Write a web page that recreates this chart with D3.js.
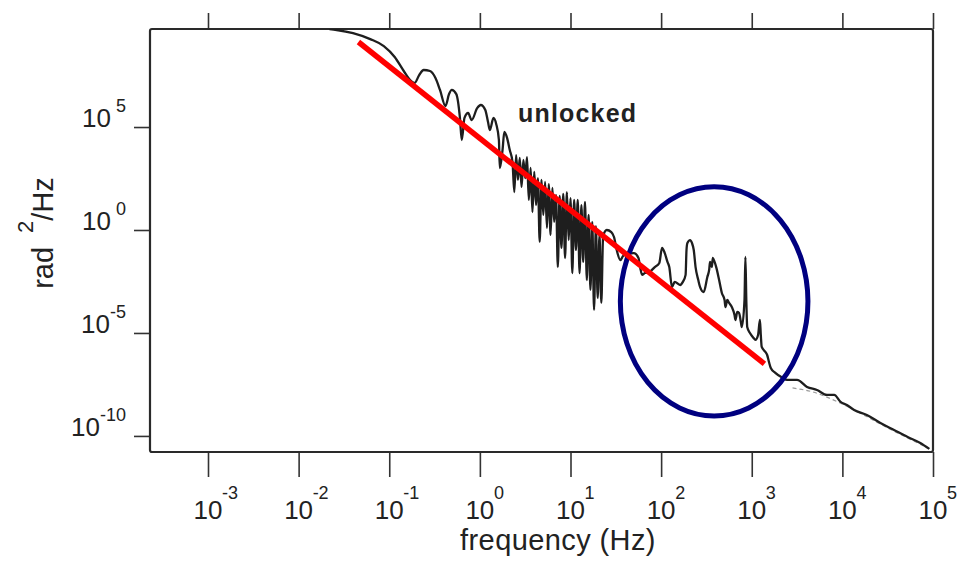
<!DOCTYPE html>
<html><head><meta charset="utf-8">
<script src="https://cdn.jsdelivr.net/npm/d3@7"></script>
<style>
body{margin:0;background:#fff}
svg{display:block}
text{font-family:"Liberation Sans",Arial,Helvetica,sans-serif;fill:#222}
</style>
</head><body>
<svg id="chart" width="959" height="564"></svg>
<script>
// ---- data (log10 values) ----
const xTickExps = [-3, -2, -1, 0, 1, 2, 3, 4, 5];
const yTickExps = [5, 0, -5, -10];

// low-frequency part of the unlocked phase-noise spectrum
const lowLogF = [-1.66,-1.58,-1.40,-1.21,-1.06,-0.94,-0.84,-0.77,-0.72,-0.67,-0.62,-0.55,-0.49,-0.44,-0.38,-0.34,-0.31,-0.26,-0.22,-0.20,-0.17,-0.13,-0.09,-0.03,0.01,0.06,0.09,0.11,0.15,0.18,0.21,0.22,0.25,0.27,0.30,0.33,0.36];
const lowLogP = [9.75,9.71,9.56,9.27,8.93,8.40,7.72,7.28,7.14,7.52,7.77,7.72,7.38,6.80,6.02,6.60,6.80,6.60,5.44,4.37,5.44,5.68,5.34,5.92,6.07,5.83,5.24,4.85,5.44,5.15,4.37,3.01,3.88,4.76,4.47,3.88,3.30];

// dense, noisy middle part
const midLogF = [0.38,0.40,0.42,0.44,0.46,0.48,0.50,0.52,0.54,0.56,0.58,0.60,0.62,0.64,0.66,0.68,0.70,0.72,0.74,0.76,0.78,0.80,0.82,0.84,0.86,0.88,0.90,0.92,0.94,0.96,0.98,1.00,1.02,1.04,1.06,1.08,1.10,1.12,1.14,1.16,1.18,1.20,1.22,1.24,1.26,1.28,1.30,1.32,1.34,1.36];
const midLogP = [1.84,3.64,2.43,3.50,2.09,3.40,2.52,3.54,1.46,3.01,0.87,2.82,1.21,2.52,-0.58,2.43,0.73,2.33,0.10,2.23,-0.24,2.04,0.39,1.70,-1.80,1.65,-0.87,1.75,-1.36,1.84,-0.49,1.55,-2.09,1.46,-0.97,1.46,-2.09,1.21,-1.55,1.36,-2.43,0.73,-2.91,0.39,-3.88,0.19,-3.30,-0.24,-3.54,-0.29];

// high-frequency part (bumps, spikes and the tail)
const highLogF = [1.40,1.45,1.48,1.51,1.55,1.58,1.62,1.70,1.75,1.77,1.79,1.82,1.87,1.93,1.98,2.01,2.04,2.07,2.09,2.12,2.15,2.21,2.24,2.27,2.28,2.29,2.32,2.34,2.36,2.38,2.41,2.43,2.47,2.51,2.53,2.54,2.56,2.57,2.59,2.61,2.64,2.67,2.70,2.71,2.73,2.75,2.78,2.81,2.82,2.84,2.86,2.88,2.89,2.92,2.93,2.94,2.95,2.98,3.02,3.04,3.07,3.09,3.10,3.11,3.15,3.17,3.19,3.21,3.26,3.34,3.39,3.50,3.61,3.72,3.83,3.91,3.98,4.05,4.13,4.27,4.42,4.57,4.72,4.86,4.96];
const highLogP = [0.00,-0.10,-0.34,-0.97,-1.46,-1.26,-1.17,-1.12,-1.36,-1.84,-2.18,-2.09,-2.04,-1.80,-1.60,-0.87,-1.12,-1.55,-1.80,-2.77,-2.52,-2.67,-2.52,-2.18,-0.97,-0.63,-0.49,-0.63,-0.97,-1.80,-2.43,-2.77,-3.01,-2.28,-1.94,-1.55,-1.80,-1.36,-1.55,-1.84,-2.43,-3.06,-3.40,-3.74,-3.40,-3.54,-3.74,-4.13,-4.37,-3.98,-4.03,-4.47,-4.71,-3.40,-1.31,-3.40,-4.71,-5.00,-5.24,-5.34,-5.10,-4.37,-5.10,-5.68,-5.92,-6.07,-6.41,-6.70,-6.94,-7.18,-7.28,-7.28,-7.62,-7.77,-8.01,-8.01,-8.35,-8.50,-8.74,-8.98,-9.37,-9.71,-10.05,-10.34,-10.63];

// faint second trace under the tail
const tailLogF = [3.45,3.67,3.95,4.17,4.44,4.72,4.94];
const tailLogP = [-7.67,-7.86,-8.35,-8.83,-9.47,-10.10,-10.58];

// red power-law fit line (end points)
const fitLogF = [-1.34, 3.14];
const fitLogP = [9.13, -6.50];

// blue ellipse bounds (left/right frequency, top/bottom power)
const ringLogF = [1.55, 3.62];
const ringLogP = [2.10, -9.03];

// annotation
const noteText = "unlocked";
const noteLogF = 0.42;
const noteLogP = 5.26;

// ---- chart ----
const svg = d3.select("#chart");
const P = v => Math.pow(10, v);

const x = d3.scaleLog().domain([P(-3.64), P(5)]).range([150, 933]);
const y = d3.scaleLog().domain([P(-10.78), P(9.76)]).range([452, 29]);

const L = x.range()[0], R = x.range()[1], T = y.range()[1], B = y.range()[0];

svg.append("defs").append("clipPath").attr("id", "plotclip")
  .append("rect").attr("x", L).attr("y", T).attr("width", R - L).attr("height", B - T);

// ticks
const tickStyle = g => {
  g.select(".domain").remove();
  g.selectAll(".tick line").attr("stroke", "#333").attr("stroke-width", 1.6);
};
svg.append("g").attr("transform", `translate(0,${B})`)
  .call(d3.axisBottom(x).tickValues(xTickExps.map(P)).tickSize(25).tickFormat(""))
  .call(tickStyle);
svg.append("g").attr("transform", `translate(0,${T})`)
  .call(d3.axisTop(x).tickValues(xTickExps.map(P)).tickSize(16).tickFormat(""))
  .call(tickStyle);
svg.append("g").attr("transform", `translate(${L},0)`)
  .call(d3.axisLeft(y).tickValues(yTickExps.map(P)).tickSize(16).tickFormat(""))
  .call(tickStyle);

// frame
svg.append("rect").attr("x", L).attr("y", T).attr("width", R - L).attr("height", B - T)
  .attr("fill", "none").attr("stroke", "#2a2a2a").attr("stroke-width", 2.2).attr("rx", 2);

// x tick labels
const xl = svg.append("g");
xTickExps.forEach(e => {
  const cx = x(P(e));
  xl.append("text").attr("x", cx).attr("y", 519).attr("text-anchor", "middle")
    .attr("font-size", 26).text("10");
  xl.append("text").attr("x", cx + 14).attr("y", 499).attr("text-anchor", "start")
    .attr("font-size", 18).text(String(e));
});

// y tick labels
const yl = svg.append("g");
yTickExps.forEach(e => {
  const cy = y(P(e));
  const t = yl.append("text").attr("x", 126).attr("y", cy).attr("text-anchor", "end");
  t.append("tspan").attr("font-size", 26).text("10");
  t.append("tspan").attr("font-size", 18).attr("dy", -15).text(e >= 0 ? "\u00a0" + e : String(e));
});

// axis titles
svg.append("text").attr("x", 558).attr("y", 550).attr("text-anchor", "middle")
  .attr("font-size", 29).attr("letter-spacing", 0.4).text("frequency (Hz)");
const yt = svg.append("text").attr("transform", "translate(53,233) rotate(-90)")
  .attr("text-anchor", "middle").attr("font-size", 29);
yt.append("tspan").text("rad");
yt.append("tspan").attr("font-size", 22).attr("dx", 14).attr("dy", -20).text("2");
yt.append("tspan").attr("dy", 20).text("/Hz");

// spectrum
const toPts = (fs, ps) => fs.map((f, i) => [P(f), P(ps[i])]);
const spectrum = toPts(lowLogF, lowLogP).concat(toPts(midLogF, midLogP), toPts(highLogF, highLogP));
const line = d3.line().x(d => x(d[0])).y(d => y(d[1])).curve(d3.curveMonotoneX);

const plot = svg.append("g").attr("clip-path", "url(#plotclip)");
plot.append("path").datum(toPts(tailLogF, tailLogP)).attr("d", line)
  .attr("fill", "none").attr("stroke", "#9a9a9a").attr("stroke-width", 1.2).attr("stroke-dasharray", "4,3");
plot.append("path").datum(spectrum).attr("d", line)
  .attr("fill", "none").attr("stroke", "#1e1e1e").attr("stroke-width", 2.3).attr("stroke-linejoin", "round");

// annotation text
svg.append("text").attr("x", x(P(noteLogF))).attr("y", y(P(noteLogP)))
  .attr("font-size", 25).attr("font-weight", "bold").attr("letter-spacing", 1.2)
  .attr("fill", "#333").text(noteText);

// blue ellipse
const ex0 = x(P(ringLogF[0])), ex1 = x(P(ringLogF[1]));
const ey0 = y(P(ringLogP[0])), ey1 = y(P(ringLogP[1]));
svg.append("ellipse").attr("cx", (ex0 + ex1) / 2).attr("cy", (ey0 + ey1) / 2)
  .attr("rx", (ex1 - ex0) / 2).attr("ry", (ey1 - ey0) / 2)
  .attr("fill", "none").attr("stroke", "#000080").attr("stroke-width", 5);

// red fit line
svg.append("path").datum(toPts(fitLogF, fitLogP))
  .attr("d", d3.line().x(d => x(d[0])).y(d => y(d[1])))
  .attr("stroke", "#ff0000").attr("stroke-width", 5.5).attr("fill", "none");
</script>
</body></html>
